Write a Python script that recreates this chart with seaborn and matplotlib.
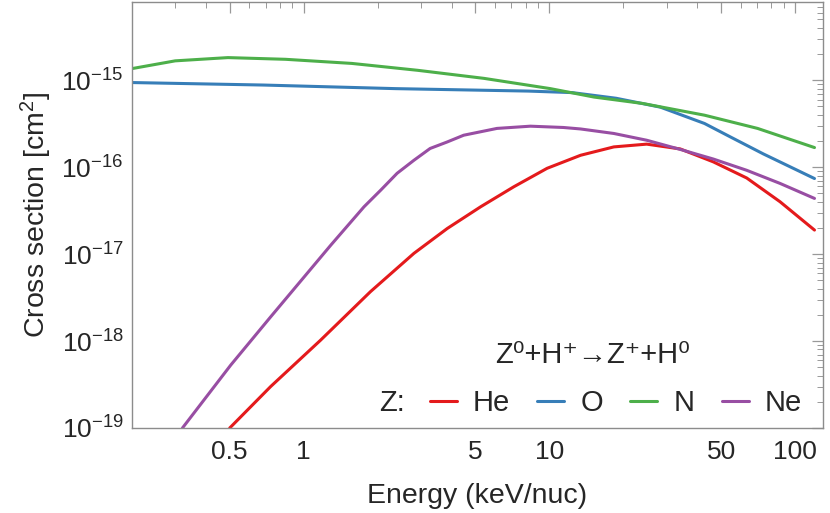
import numpy as np
import pandas as pd
import matplotlib
matplotlib.use('Agg')
import matplotlib.pyplot as plt
from matplotlib import ticker
import seaborn as sns

sns.set_theme(style="white")
plt.rcParams['font.family'] = ['Liberation Sans', 'DejaVu Sans']
plt.rcParams['mathtext.default'] = 'regular'

# values (energy in keV/nuc, cross section in cm^2)
E_he = [0.5, 0.734, 1.17, 1.87, 2.81, 3.84, 5.25, 7.16, 9.79, 13.4, 18.3, 24.9,
        34.1, 46.5, 63.6, 86.9, 120]
s_he = [1e-19, 3.0e-19, 1.02e-18, 3.7e-18, 1.02e-17, 1.97e-17, 3.5e-17, 5.94e-17,
        9.7e-17, 1.37e-16, 1.71e-16, 1.84e-16, 1.62e-16, 1.15e-16, 7.5e-17,
        4.0e-17, 1.89e-17]

E_o = [0.2, 0.685, 2.37, 8.2, 12.4, 18.7, 28.3, 42.8, 54.5, 74.3, 120]
s_o = [9.4e-16, 8.8e-16, 8.0e-16, 7.5e-16, 7.2e-16, 6.2e-16, 4.9e-16, 3.18e-16,
       2.23e-16, 1.42e-16, 7.4e-17]

E_n = [0.2, 0.3, 0.492, 0.843, 1.57, 2.91, 5.42, 10.1, 15.2, 24.0, 42.8, 70.4, 120]
s_n = [1.36e-15, 1.67e-15, 1.82e-15, 1.74e-15, 1.56e-15, 1.30e-15, 1.05e-15,
       8.0e-16, 6.4e-16, 5.4e-16, 3.96e-16, 2.79e-16, 1.68e-16]

E_ne = [0.321, 0.505, 0.734, 1.29, 1.76, 2.06, 2.40, 2.81, 3.27, 3.84, 4.48, 6.12,
        8.37, 11.4, 13.4, 18.3, 24.9, 34.1, 46.5, 63.6, 86.9, 120]
s_ne = [1e-19, 5.3e-19, 1.9e-18, 1.27e-17, 3.5e-17, 5.45e-17, 8.5e-17, 1.2e-16,
        1.64e-16, 1.95e-16, 2.33e-16, 2.79e-16, 2.96e-16, 2.86e-16, 2.75e-16,
        2.44e-16, 2.04e-16, 1.6e-16, 1.24e-16, 9.2e-17, 6.5e-17, 4.37e-17]

elements = ['He', 'O', 'N', 'Ne']
series = {'He': (E_he, s_he), 'O': (E_o, s_o), 'N': (E_n, s_n), 'Ne': (E_ne, s_ne)}

df = pd.concat([pd.DataFrame({'E': e, 'sigma': s, 'Z': z})
                for z, (e, s) in series.items()])

fig, ax = plt.subplots(figsize=(8.3, 5.13), dpi=100)
fig.subplots_adjust(left=0.159, right=0.9916, top=0.9967, bottom=0.1657)

sns.lineplot(data=df, x='E', y='sigma', hue='Z', hue_order=elements,
             palette='Set1', linewidth=2.2, ax=ax, sort=False)

ax.set_xscale('log')
ax.set_yscale('log')
ax.set_xlim(0.2, 130)
ax.set_ylim(1e-19, 8e-15)

ax.set_xticks([0.5, 1, 5, 10, 50, 100])
ax.xaxis.set_major_formatter(ticker.FixedFormatter(['0.5', '1', '5', '10', '50', '100']))
ax.xaxis.set_minor_locator(ticker.LogLocator(base=10, subs=np.arange(2, 10)))
ax.xaxis.set_minor_formatter(ticker.NullFormatter())
ax.set_yticks([1e-19, 1e-18, 1e-17, 1e-16, 1e-15])
ax.yaxis.set_major_formatter(ticker.LogFormatterSciNotation())
ax.yaxis.set_minor_locator(ticker.LogLocator(base=10, subs=np.arange(2, 10), numticks=10))
ax.yaxis.set_minor_formatter(ticker.NullFormatter())

ax.tick_params(which='both', direction='in', top=True, right=True, color='#999999')
ax.tick_params(which='major', length=8, width=0.9, labelsize=19, pad=6)
ax.tick_params(axis='x', which='major', pad=9)
ax.tick_params(which='minor', length=4, width=0.7)
for sp in ax.spines.values():
    sp.set_color('#8c8c8c')
    sp.set_linewidth(1.0)

ax.set_xlabel('Energy (keV/nuc)', fontsize=20.5, labelpad=13)
ax.set_ylabel('Cross section [cm$^2$]', fontsize=20.5, labelpad=5)

handles, labels = ax.get_legend_handles_labels()
ax.legend(handles, labels, ncol=4, frameon=False, fontsize=21,
          handlelength=0.93, handletextpad=0.55, columnspacing=0.93,
          borderpad=0, loc='center left', bbox_to_anchor=(0.431, 0.059),
          borderaxespad=0)
ax.text(0.395, 0.059, 'Z:', transform=ax.transAxes, fontsize=21,
        ha='right', va='center')
ax.text(0.667, 0.171, 'Z⁰+H⁺→Z⁺+H⁰', transform=ax.transAxes,
        fontsize=21, ha='center', va='center')

plt.savefig('out.png')
